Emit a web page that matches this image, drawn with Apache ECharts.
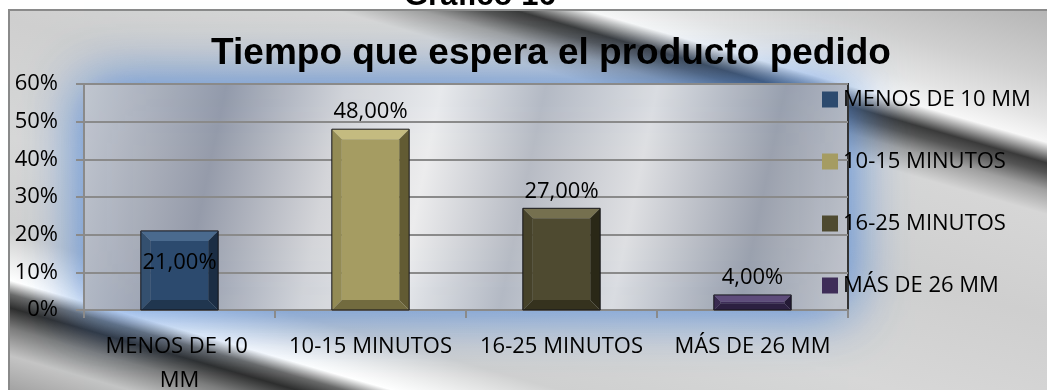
<!DOCTYPE html>
<html>
<head>
<meta charset="utf-8">
<script src="https://cdn.jsdelivr.net/npm/echarts@6/dist/echarts.min.js"></script>
<style>
  html, body { margin: 0; padding: 0; background: #fff; }
  #wrap { position: relative; width: 1047px; height: 390px; overflow: hidden; background: #fff; }
  #frame {
    position: absolute; left: 8px; top: 9px; width: 1045px; height: 386px;
    border-top: 2px solid #8a8a8a; border-left: 2px solid #8a8a8a;
    background: linear-gradient(196deg,
      #b5b5b5 0%, #cfcfcf 10%, #e4e4e4 16%, #f7f7f7 19.5%, #9a9a9a 21%,
      #3a3a3a 22.5%, #555555 24%, #a0a0a0 26.5%, #d6d6d6 30%, #cfcfcf 45%,
      #d7d7d7 62%, #d0d0d0 76%, #f2f2f2 81%, #ffffff 83%, #6a6a6a 85%,
      #2e2e2e 87%, #7d7d7d 90%, #c4c4c4 94%, #9c9c9c 100%);
  }
  #chart { position: absolute; left: 0; top: 0; width: 1047px; height: 390px; }
</style>
</head>
<body>
<div id="wrap">
  <div id="frame"></div>
  <div id="chart"></div>
</div>
<script>
// categorias y valores del grafico
const categories = ['MENOS DE 10 MM', '10-15 MINUTOS', '16-25 MINUTOS', 'MÁS DE 26 MM'];
const values = [0.21, 0.48, 0.27, 0.04];
const yMax = 0.6;
const yStep = 0.1;

// colores de las barras: centro, borde sup., lado izq., lado der., borde inf.
const barColors = [
  ['#2c4a6e', '#4a6a8e', '#34506f', '#1b2d44', '#20364f'],
  ['#a59c62', '#c4bb80', '#938b55', '#625b33', '#726b3f'],
  ['#4e4a30', '#75704f', '#46422a', '#2a2817', '#35321e'],
  ['#3e2d58', '#5e4c7b', '#392a50', '#241a36', '#2c2041']
];

function pct(v) {
  return (v * 100).toFixed(2).replace('.', ',') + '%';
}

function renderBevel(params, api) {
  const idx = api.value(0);
  const v = api.value(1);
  const top = api.coord([idx, v]);
  const base = api.coord([idx, 0]);
  const w = api.size([1, 0])[0] * 0.405;
  const x0 = top[0] - w / 2, x1 = x0 + w;
  const y0 = top[1], y1 = base[1];
  const b = Math.min(10, (y1 - y0) / 2.2, w / 4);
  const c = barColors[idx];
  const kids = [
    { type: 'polygon', shape: { points: [[x0, y0], [x1, y0], [x1 - b, y0 + b], [x0 + b, y0 + b]] }, style: { fill: c[1] } },
    { type: 'polygon', shape: { points: [[x0, y0], [x0 + b, y0 + b], [x0 + b, y1 - b], [x0, y1]] }, style: { fill: c[2] } },
    { type: 'polygon', shape: { points: [[x1, y0], [x1 - b, y0 + b], [x1 - b, y1 - b], [x1, y1]] }, style: { fill: c[3] } },
    { type: 'polygon', shape: { points: [[x0, y1], [x0 + b, y1 - b], [x1 - b, y1 - b], [x1, y1]] }, style: { fill: c[4] } },
    { type: 'rect', shape: { x: x0 + b, y: y0 + b, width: w - 2 * b, height: Math.max(0, y1 - y0 - 2 * b) }, style: { fill: c[0] } },
    { type: 'rect', shape: { x: x0, y: y0, width: w, height: y1 - y0 }, style: { fill: null, stroke: '#15151a', lineWidth: 1 } }
  ];
  // etiqueta de dato: la primera va dentro de la barra
  const inside = idx === 0;
  kids.push({
    type: 'text',
    style: {
      text: pct(v),
      x: top[0],
      y: inside ? (y0 + y1) / 2 - 8 : y0 - 6,
      align: 'center',
      verticalAlign: inside ? 'middle' : 'bottom',
      fill: '#000',
      font: '22px "Open Sans"'
    }
  });
  return { type: 'group', children: kids };
}

const chart = echarts.init(document.getElementById('chart'));

const series = categories.map((name, i) => ({
  type: 'custom',
  name: name,
  renderItem: renderBevel,
  itemStyle: { color: barColors[i][0] },
  encode: { x: 0, y: 1 },
  data: [[i, values[i]]],
  z: 3
}));

const option = {
  animation: false,
  textStyle: { fontFamily: 'Open Sans' },
  graphic: [
    {
      type: 'text', left: 404, top: -19,
      style: { text: 'Gráfico 16', font: 'bold 31px "Liberation Sans"', fill: '#000' }
    }
  ],
  title: {
    text: 'Tiempo que espera el producto pedido',
    left: 546, textAlign: 'center', top: 30,
    textStyle: { fontFamily: 'Liberation Sans', fontWeight: 'bold', fontSize: 37, color: '#000' }
  },
  legend: {
    orient: 'vertical',
    left: 817, top: 82,
    itemWidth: 16, itemHeight: 16, itemGap: 37,
    icon: 'rect',
    textStyle: { fontFamily: 'Open Sans', fontSize: 22, color: '#000', lineHeight: 25 },
    data: categories
  },
  grid: {
    left: 84, right: 199, top: 84, bottom: 80,
    outerBoundsMode: 'none',
    containLabel: false,
    show: true,
    borderColor: '#333', borderWidth: 2,
    backgroundColor: new echarts.graphic.LinearGradient(0, 0, 1, 0.7, [
      { offset: 0, color: '#c6c9d0' },
      { offset: 0.18, color: '#959baa' },
      { offset: 0.33, color: '#d4d5d9' },
      { offset: 0.45, color: '#ececed' },
      { offset: 0.58, color: '#b7bbc4' },
      { offset: 0.72, color: '#dedfe2' },
      { offset: 0.88, color: '#9ba1ae' },
      { offset: 1, color: '#c2c4ca' }
    ]),
    shadowColor: 'rgba(70,130,215,1)',
    shadowBlur: 55
  },
  xAxis: {
    type: 'category',
    data: categories,
    axisLine: { lineStyle: { color: '#8a8a8a', width: 2 } },
    axisTick: { show: true, length: 8, lineStyle: { color: '#8a8a8a', width: 2 } },
    axisLabel: {
      color: '#000', fontFamily: 'Open Sans', fontSize: 22,
      margin: 20, lineHeight: 34, width: 172, overflow: 'break', interval: 0
    }
  },
  yAxis: {
    type: 'value',
    min: 0, max: yMax, interval: yStep,
    axisLine: { show: true, lineStyle: { color: '#8a8a8a', width: 2 } },
    axisTick: { show: true, length: 8, lineStyle: { color: '#8a8a8a', width: 2 } },
    splitLine: { lineStyle: { color: '#8a8a8a', width: 2 } },
    axisLabel: {
      color: '#000', fontFamily: 'Open Sans', fontSize: 22, margin: 26,
      formatter: v => Math.round(v * 100) + '%'
    }
  },
  series: series
};

chart.setOption(option);
</script>
</body>
</html>
